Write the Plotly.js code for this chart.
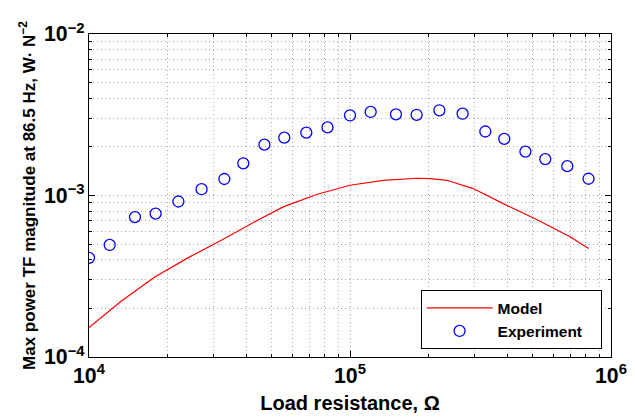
<!DOCTYPE html>
<html>
<head>
<meta charset="utf-8">
<script src="https://cdn.plot.ly/plotly-3.0.1.min.js"></script>
<style>html,body{margin:0;padding:0;background:#fff}#chart{width:635px;height:417px}</style>
</head>
<body>
<div id="chart"></div>
<script>
// Experiment (load resistance in ohm, power TF magnitude W·N^-2)
var expResistance = [10000, 12000, 15000, 18000, 22000, 27000, 33000, 39000, 47000, 56000, 68000, 82000,
                     100000, 120000, 150000, 180000, 220000, 270000, 330000, 390000, 470000, 560000, 680000, 820000];
var expPower = [4.11e-4, 4.94e-4, 7.35e-4, 7.73e-4, 9.18e-4, 1.094e-3, 1.265e-3, 1.582e-3, 2.065e-3, 2.28e-3, 2.45e-3, 2.64e-3,
                3.13e-3, 3.29e-3, 3.18e-3, 3.16e-3, 3.37e-3, 3.21e-3, 2.49e-3, 2.24e-3, 1.87e-3, 1.68e-3, 1.52e-3, 1.27e-3];
// Model curve
var modelResistance = [10000, 13310, 17870, 23930, 32130, 44460, 55480, 74480, 100000, 134300, 180300, 202800,
                       234900, 296500, 386500, 518800, 696700, 820000];
var modelPower = [1.52e-4, 2.22e-4, 3.13e-4, 4.11e-4, 5.28e-4, 7.06e-4, 8.50e-4, 1.014e-3, 1.157e-3, 1.242e-3, 1.279e-3, 1.273e-3,
                  1.242e-3, 1.104e-3, 8.91e-4, 7.10e-4, 5.55e-4, 4.70e-4];
var seriesNames = ["Model", "Experiment"];

var fontFam = "Liberation Sans, Arial, Helvetica, sans-serif";
var pad = "\u00a0\u00a0\u00a0";

var traces = [
  {x: modelResistance, y: modelPower, name: seriesNames[0] + pad, type: "scatter", mode: "lines",
   line: {color: "#ff0000", width: 1.2}},
  {x: expResistance, y: expPower, name: seriesNames[1] + pad, type: "scatter", mode: "markers",
   marker: {symbol: "circle-open", size: 11, color: "#0000ff", line: {color: "#0000ff", width: 1.3}}}
];

function axisBase() {
  return {
    type: "log", dtick: 1, exponentformat: "power",
    showline: true, linecolor: "#000", linewidth: 1, mirror: "ticks",
    ticks: "inside", ticklen: 6, tickcolor: "#000",
    showgrid: true, gridcolor: "#a8a8a8", griddash: "1px,3px", gridwidth: 1,
    zeroline: false,
    tickfont: {family: fontFam, size: 17, color: "#000", weight: "bold"},
    minor: {ticks: "inside", ticklen: 3, tickcolor: "#000", showgrid: true,
            gridcolor: "#a8a8a8", griddash: "1px,3px", gridwidth: 1}
  };
}

var xa = axisBase();
xa.range = [4, 6];
xa.title = {text: "Load resistance, Ω", font: {family: fontFam, size: 20, color: "#000", weight: "bold"}, standoff: 9};
var ya = axisBase();
ya.range = [-4, -2];
ya.title = {text: "Max power TF magnitude at 86.5 Hz, W· N<sup>−2</sup>", font: {family: fontFam, size: 17, color: "#000", weight: "bold"}, standoff: 4};

var layout = {
  width: 635, height: 417,
  margin: {l: 89, r: 24, t: 34, b: 60},
  paper_bgcolor: "#fff", plot_bgcolor: "#fff",
  xaxis: xa, yaxis: ya,
  showlegend: true,
  legend: {x: 0.982, y: 0.024, xanchor: "right", yanchor: "bottom",
           bgcolor: "#fff", bordercolor: "#000", borderwidth: 1,
           font: {family: fontFam, size: 15.5, color: "#000", weight: "bold"},
           itemwidth: 66, tracegroupgap: 0}
};

Plotly.newPlot("chart", traces, layout, {displayModeBar: false, staticPlot: true});
</script>
</body>
</html>
